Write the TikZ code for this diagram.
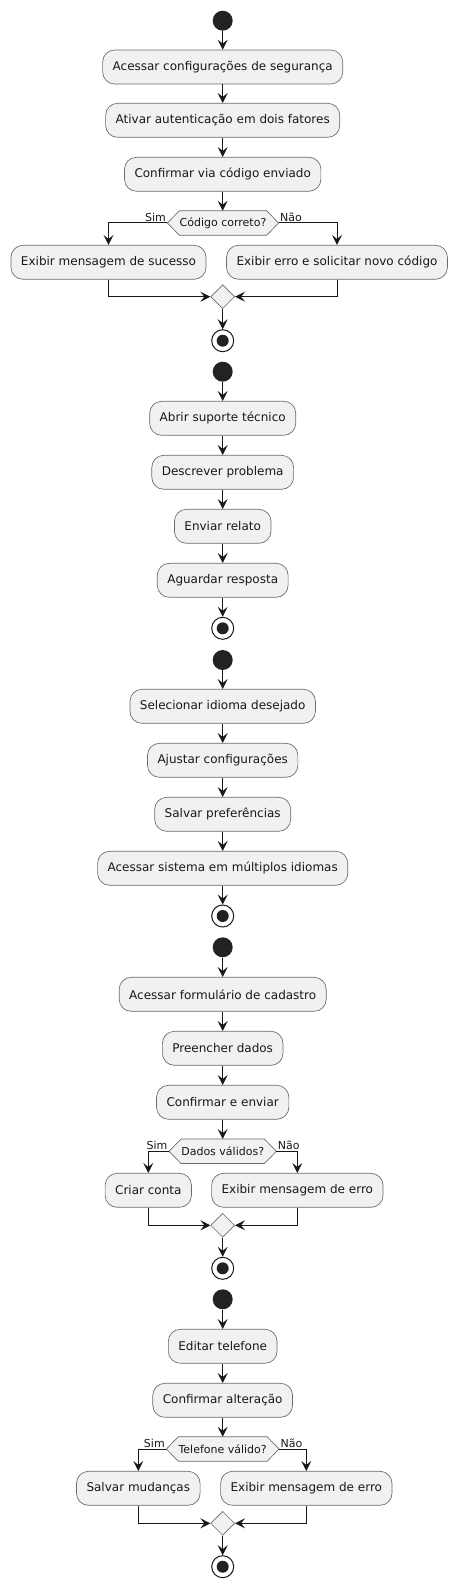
\documentclass[tikz,border=0pt]{standalone}
\usepackage{fontspec}
\setmainfont{DejaVu Sans}
\usetikzlibrary{arrows.meta,shapes.geometric,calc,backgrounds}
\definecolor{boxfill}{HTML}{F1F1F1}
\definecolor{ink}{HTML}{181818}
\definecolor{edge}{HTML}{6A6A6A}
\definecolor{dotc}{HTML}{222222}
\begin{document}
\begin{tikzpicture}[x=0.75pt,y=-0.75pt,
  act/.style={rectangle, rounded corners=9pt, draw=edge, line width=0.5pt, fill=boxfill,
    minimum height=25.5pt, inner xsep=7.5pt, inner ysep=0pt, text=ink,
    font=\fontsize{9pt}{11pt}\selectfont},
  startnode/.style={circle, fill=dotc, minimum size=15pt, inner sep=0pt},
  stopnode/.style={circle, draw=ink, line width=0.75pt, fill=white, minimum size=16.5pt, inner sep=0pt,
    path picture={\fill[dotc] (path picture bounding box.center) circle (4.5pt);}},
  merge/.style={diamond, draw=edge, line width=0.5pt, fill=boxfill, minimum width=18pt, minimum height=18pt, inner sep=0pt},
  dec/.style={rectangle, minimum height=18pt, inner xsep=9pt, inner ysep=0pt, text=ink,
    font=\fontsize{8.25pt}{10pt}\selectfont},
  lbl/.style={font=\fontsize{8.25pt}{10pt}\selectfont, inner sep=1pt, text=ink},
  arr/.style={draw=ink, line width=0.75pt, -{Stealth[length=7.5pt,width=7.5pt,inset=3pt]}}
]
\useasboundingbox (0,0) rectangle (457,1587);

% Section 1
\node[startnode] (s1) at (222.7,20.7) {};
\node[act] (a1) at (222.7,67) {Acessar configurações de segurança};
\node[act] (a2) at (222.7,120.3) {Ativar autenticação em dois fatores};
\node[act] (a3) at (222.7,174.3) {Confirmar via código enviado};
\node[dec] (d1) at (223,223) {Código correto?};
\node[act] (b1) at (108.5,262.3) {Exibir mensagem de sucesso};
\node[act] (b2) at (337,262.3) {Exibir erro e solicitar novo código};
\node[merge] (m1) at (222.7,296.7) {};
\node[stopnode] (e1) at (222.7,340.7) {};

% Section 2
\node[startnode] (s2) at (222.7,371.7) {};
\node[act] (c1) at (222.7,418.3) {Abrir suporte técnico};
\node[act] (c2) at (222.7,472.3) {Descrever problema};
\node[act] (c3) at (222.7,526.3) {Enviar relato};
\node[act] (c4) at (222.7,580.3) {Aguardar resposta};
\node[stopnode] (e2) at (222.7,628.3) {};

% Section 3
\node[startnode] (s3) at (222.7,660) {};
\node[act] (g1) at (222.7,706.3) {Selecionar idioma desejado};
\node[act] (g2) at (222.7,760.3) {Ajustar configurações};
\node[act] (g3) at (222.7,814.3) {Salvar preferências};
\node[act] (g4) at (222.7,868.3) {Acessar sistema em múltiplos idiomas};
\node[stopnode] (e3) at (222.7,916) {};

% Section 4
\node[startnode] (s4) at (222.7,947.3) {};
\node[act] (h1) at (222.7,994.3) {Acessar formulário de cadastro};
\node[act] (h2) at (222.7,1048.3) {Preencher dados};
\node[act] (h3) at (222.7,1102.3) {Confirmar e enviar};
\node[dec] (d4) at (222.7,1151.3) {Dados válidos?};
\node[act] (k1) at (148.3,1190.3) {Criar conta};
\node[act] (k2) at (297.3,1190.3) {Exibir mensagem de erro};
\node[merge] (m4) at (222.7,1225.3) {};
\node[stopnode] (e4) at (222.7,1268.3) {};

% Section 5
\node[startnode] (s5) at (222.7,1299.3) {};
\node[act] (p1) at (222.7,1346.3) {Editar telefone};
\node[act] (p2) at (222.7,1400.3) {Confirmar alteração};
\node[dec] (d5) at (222.7,1449) {Telefone válido?};
\node[act] (q1) at (138.3,1488.3) {Salvar mudanças};
\node[act] (q2) at (306.3,1488.3) {Exibir mensagem de erro};
\node[merge] (m5) at (222.7,1523.3) {};
\node[stopnode] (e5) at (222.7,1566.7) {};

% hexagons behind decision texts
\begin{scope}[on background layer]
\foreach \n in {d1,d4,d5}{
  \filldraw[fill=boxfill, draw=edge, line width=0.5pt]
    (\n.west) -- ([xshift=9pt]\n.north west) -- ([xshift=-9pt]\n.north east) -- (\n.east)
    -- ([xshift=-9pt]\n.south east) -- ([xshift=9pt]\n.south west) -- cycle;
}
\end{scope}

% connectors section 1
\draw[arr] (s1) -- (a1);
\draw[arr] (a1) -- (a2);
\draw[arr] (a2) -- (a3);
\draw[arr] (a3) -- (d1.north -| a3);
\draw[arr] (d1.west) -| (b1.north);
\draw[arr] (d1.east) -| (b2.north);
\draw[arr] (b1.south) |- (m1.west);
\draw[arr] (b2.south) |- (m1.east);
\draw[arr] (m1) -- (e1);
\node[lbl, anchor=south east] at (d1.west) {Sim};
\node[lbl, anchor=south west] at (d1.east) {Não};

% section 2
\draw[arr] (s2) -- (c1);
\draw[arr] (c1) -- (c2);
\draw[arr] (c2) -- (c3);
\draw[arr] (c3) -- (c4);
\draw[arr] (c4) -- (e2);

% section 3
\draw[arr] (s3) -- (g1);
\draw[arr] (g1) -- (g2);
\draw[arr] (g2) -- (g3);
\draw[arr] (g3) -- (g4);
\draw[arr] (g4) -- (e3);

% section 4
\draw[arr] (s4) -- (h1);
\draw[arr] (h1) -- (h2);
\draw[arr] (h2) -- (h3);
\draw[arr] (h3) -- (d4);
\draw[arr] (d4.west) -| (k1.north);
\draw[arr] (d4.east) -| (k2.north);
\draw[arr] (k1.south) |- (m4.west);
\draw[arr] (k2.south) |- (m4.east);
\draw[arr] (m4) -- (e4);
\node[lbl, anchor=south east] at (d4.west) {Sim};
\node[lbl, anchor=south west] at (d4.east) {Não};

% section 5
\draw[arr] (s5) -- (p1);
\draw[arr] (p1) -- (p2);
\draw[arr] (p2) -- (d5);
\draw[arr] (d5.west) -| (q1.north);
\draw[arr] (d5.east) -| (q2.north);
\draw[arr] (q1.south) |- (m5.west);
\draw[arr] (q2.south) |- (m5.east);
\draw[arr] (m5) -- (e5);
\node[lbl, anchor=south east] at (d5.west) {Sim};
\node[lbl, anchor=south west] at (d5.east) {Não};
\end{tikzpicture}
\end{document}
